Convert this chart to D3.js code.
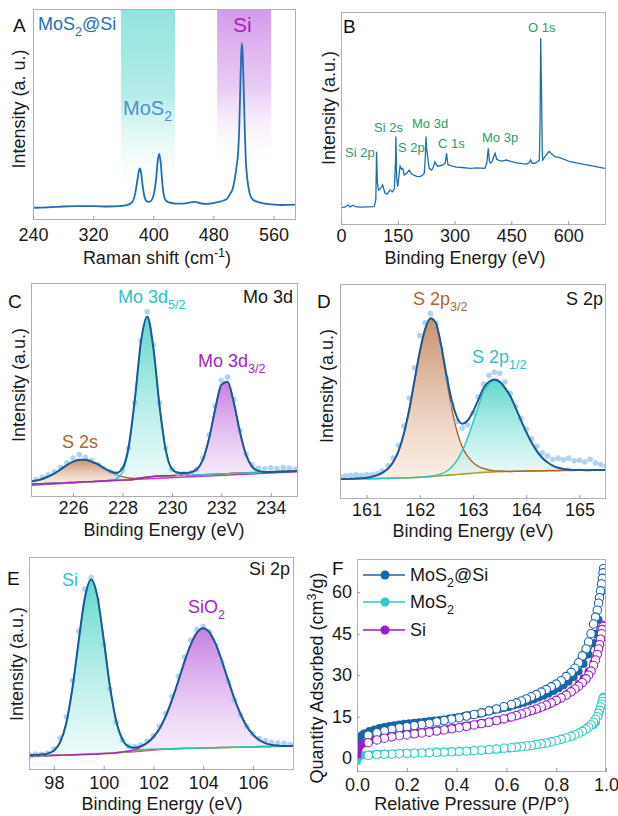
<!DOCTYPE html>
<html>
<head>
<meta charset="utf-8">
<script src="https://cdn.jsdelivr.net/npm/d3@7"></script>
<style>
  body { margin: 0; background: #fff; }
  svg { display: block; font-family: "Liberation Sans", Arial, Helvetica, sans-serif; }
</style>
</head>
<body>
<svg id="fig" width="618" height="816"></svg>
<script>
// ---------- data ----------

// A: Raman spectrum of MoS2@Si
var ramanX = [240, 260, 280, 300, 320, 340, 355, 365, 372, 376, 379, 381, 382.5, 384, 386, 388, 391, 394, 398, 401,
  404, 406, 408, 410, 412, 414, 417, 422, 430, 440, 450, 456, 462, 470, 480, 490, 498, 503, 506, 509,
  511, 513, 514.5, 516, 517, 518, 519, 520, 521.5, 523, 525, 527, 529, 533, 540, 550, 560, 570, 580, 590];
var ramanY = [58, 60, 64, 66, 66, 64, 66, 70, 85, 125, 190, 235, 245, 220, 160, 115, 90, 86, 95, 125,
  200, 280, 313, 270, 180, 120, 92, 82, 78, 78, 84, 86, 80, 76, 80, 88, 100, 128, 150, 205,
  255, 320, 440, 650, 780, 837, 790, 680, 470, 300, 200, 150, 118, 95, 85, 76, 73, 71, 72, 73];
var ramanBandFrom = [357, 485];
var ramanBandTo = [429, 557];
var ramanTicks = [240, 320, 400, 480, 560];

// B: XPS survey
var surveyX = [0, 10, 19, 24, 32, 38, 50, 70, 88, 92, 94, 96, 99, 104, 110, 116, 122, 129, 136, 141,
  144, 145, 147, 150, 153, 156, 160, 163, 167, 172, 180, 186, 191, 200, 209, 216, 220, 223, 224.5, 226,
  228, 231, 233, 239.5, 244, 248, 253, 257, 264, 270, 275, 279, 281, 283, 295, 305, 320, 341, 360, 380,
  385, 389, 392, 395, 400, 404, 407, 411, 415.5, 425, 437.6, 450, 464, 480, 490, 497, 501, 505, 512, 518,
  524, 526, 527.5, 529, 530, 531.5, 532.7, 535, 538.8, 545, 550, 556, 565, 580, 605, 625, 649, 670, 697];
var surveyY = [83, 84, 94, 85, 93, 86, 84, 85, 86, 120, 344, 200, 164, 170, 188, 150, 145, 164, 156, 170,
  300, 415, 220, 180, 230, 277, 262, 266, 235, 240, 258, 240, 235, 228, 227, 235, 243, 330, 415, 360,
  337, 290, 266, 258, 272, 297, 280, 275, 280, 282, 290, 337, 300, 282, 276, 272, 270, 266, 268, 266,
  290, 360, 300, 290, 300, 325, 337, 310, 305, 300, 305, 298, 292, 288, 286, 292, 305, 290, 290, 296,
  305, 500, 877, 700, 587, 350, 305, 310, 321, 335, 345, 335, 321, 315, 297, 290, 282, 275, 266];
var surveyTicks = [0, 150, 300, 450, 600];

// C: Mo 3d
var gridC = [224.25, 224.5, 224.75, 225, 225.25, 225.5, 225.75, 226, 226.25, 226.5, 226.75, 227, 227.25, 227.5, 227.75,
  228, 228.25, 228.5, 228.75, 229, 229.25, 229.5, 229.75, 230, 230.25, 230.5, 230.75, 231, 231.25, 231.5,
  231.75, 232, 232.25, 232.5, 232.75, 233, 233.25, 233.5, 233.75, 234, 234.25, 234.5, 234.75, 235, 235.25];
var bgC = [60, 61, 62, 63, 64, 65, 67, 68, 70, 71, 72, 74, 75, 77, 78,
  79, 80, 83, 88, 93, 96, 98, 99, 100, 101, 102, 103, 103, 104, 105,
  106, 108, 109, 111, 112, 113, 114, 115, 116, 117, 118, 119, 120, 121, 122];
var s2sC = [12, 16, 22, 33, 46, 64, 82, 97, 104, 103, 93, 79, 60, 42, 27,
  16, 9, 4, 2, 1, 0, 0, 0, 0, 0, 0, 0, 0, 0, 0,
  0, 0, 0, 0, 0, 0, 0, 0, 0, 0, 0, 0, 0, 0, 0];
var mo52C = [0, 0, 0, 0, 0, 0, 0, 0, 0, 0, 0, 0, 0, 1, 7,
  39, 146, 369, 637, 750, 600, 327, 121, 31, 12, 6, 3, 1, 0, 0,
  0, 0, 0, 0, 0, 0, 0, 0, 0, 0, 0, 0, 0, 0, 0];
var mo32C = [0, 0, 0, 0, 0, 0, 0, 0, 0, 0, 0, 0, 0, 0, 0,
  0, 0, 0, 0, 0, 0, 0, 0, 0, 0, 4, 9, 24, 69, 167,
  304, 417, 429, 332, 192, 84, 27, 7, 1, 0, 0, 0, 0, 0, 0];
var rawC = [75, 82, 92, 104, 118, 138, 160, 182, 198, 186, 170, 152, 132, 118, 110,
  130, 228, 440, 730, 866, 710, 440, 228, 130, 108, 110, 112, 130, 182, 290,
  425, 545, 560, 455, 310, 200, 150, 135, 132, 136, 133, 138, 135, 130, 128];
var bg2CX = [224.3, 228.8, 235.1];
var bg2CY = [55, 84, 118];
var ticksC = [226, 228, 230, 232, 234];

// D: S 2p
var gridD = [160.5, 160.6, 160.7, 160.8, 160.9, 161, 161.1, 161.2, 161.3, 161.4, 161.5, 161.6, 161.7, 161.8, 161.9,
  162, 162.1, 162.2, 162.3, 162.4, 162.5, 162.6, 162.7, 162.8, 162.9, 163, 163.1, 163.2, 163.3, 163.4,
  163.5, 163.6, 163.7, 163.8, 163.9, 164, 164.1, 164.2, 164.3, 164.4, 164.5, 164.6, 164.7, 164.8, 164.9,
  165, 165.1, 165.2, 165.3, 165.4, 165.5];
var bgD = [92, 92, 93, 93, 94, 94, 95, 95, 96, 96, 97, 98, 99, 99, 100,
  101, 102, 104, 106, 108, 110, 112, 114, 116, 118, 120, 122, 124, 125, 126,
  127, 128, 128, 129, 129, 130, 130, 131, 131, 132, 132, 132, 133, 133, 133,
  134, 134, 134, 135, 135, 135];
var s2p32D = [0, 1, 1, 2, 3, 5, 9, 16, 27, 45, 75, 125, 205, 315, 450,
  584, 687, 735, 710, 600, 450, 310, 200, 125, 80, 50, 30, 18, 10, 5,
  3, 1, 0, 0, 0, 0, 0, 0, 0, 0, 0, 0, 0, 0, 0,
  0, 0, 0, 0, 0, 0];
var s2p12D = [0, 0, 0, 0, 0, 0, 0, 0, 0, 0, 0, 0, 0, 0, 0,
  0, 1, 2, 4, 9, 19, 37, 66, 109, 167, 236, 309, 374, 410, 425,
  416, 388, 351, 296, 238, 182, 133, 92, 61, 39, 23, 13, 7, 4, 2,
  1, 0, 0, 0, 0, 0];
var rawD = [105, 108, 110, 112, 110, 112, 113, 118, 130, 155, 190, 250, 340, 470, 610,
  760, 820, 862, 815, 700, 560, 440, 360, 330, 345, 400, 475, 535, 575, 590,
  585, 545, 490, 430, 375, 325, 280, 245, 215, 200, 185, 190, 182, 190, 178,
  180, 172, 185, 168, 160, 152];
var ticksD = [161, 162, 163, 164, 165];

// E: Si 2p
var gridE = [97, 97.25, 97.5, 97.75, 98, 98.25, 98.5, 98.75, 99, 99.25, 99.5, 99.75, 100, 100.25, 100.5,
  100.75, 101, 101.25, 101.5, 101.75, 102, 102.25, 102.5, 102.75, 103, 103.25, 103.5, 103.75, 104, 104.25,
  104.5, 104.75, 105, 105.25, 105.5, 105.75, 106, 106.25, 106.5, 106.75, 107, 107.25, 107.5, 107.75];
var bgE = [66, 67, 68, 68, 69, 70, 70, 71, 72, 73, 74, 75, 77, 78, 80,
  83, 86, 89, 92, 95, 97, 98, 99, 100, 101, 102, 102, 103, 104, 104,
  105, 106, 106, 107, 108, 108, 109, 110, 110, 111, 112, 112, 113, 114];
var siE = [3, 4, 5, 9, 22, 60, 151, 317, 537, 738, 820, 738, 537, 317, 151,
  60, 22, 9, 4, 2, 1, 0, 0, 0, 0, 0, 0, 0, 0, 0,
  0, 0, 0, 0, 0, 0, 0, 0, 0, 0, 0, 0, 0, 0];
var sio2E = [0, 0, 0, 0, 0, 0, 0, 0, 0, 0, 0, 0, 0, 0, 1,
  2, 3, 7, 16, 31, 57, 97, 155, 230, 317, 407, 487, 542, 562, 542,
  487, 407, 317, 230, 155, 97, 57, 31, 16, 7, 3, 1, 0, 0];
var rawE = [72, 75, 74, 80, 98, 150, 250, 420, 650, 850, 903, 800, 590, 380, 225,
  140, 112, 110, 118, 135, 160, 205, 265, 345, 440, 530, 610, 660, 675, 650,
  585, 505, 415, 330, 258, 205, 170, 148, 138, 130, 128, 125, 120, 118];
var bg2EX = [97, 101.2, 102.5, 107.75];
var bg2EY = [62, 86, 98, 113];
var ticksE = [98, 100, 102, 104, 106];

// F: N2 isotherms
var pAds = [0.001, 0.003, 0.006, 0.01, 0.02, 0.03, 0.05, 0.07, 0.09, 0.11, 0.13, 0.15, 0.17, 0.19, 0.21,
  0.23, 0.25, 0.27, 0.29, 0.31, 0.33, 0.35, 0.37, 0.39, 0.41, 0.43, 0.45, 0.47, 0.49, 0.51,
  0.53, 0.55, 0.57, 0.59, 0.61, 0.63, 0.65, 0.67, 0.69, 0.71, 0.73, 0.75, 0.77, 0.79, 0.81,
  0.83, 0.85, 0.87, 0.89, 0.91, 0.93, 0.95, 0.96, 0.97, 0.98];
var mosiAds = [3, 5.5, 6.8, 7.5, 8.4, 9, 9.8, 10.4, 10.9, 11.3, 11.6, 11.9, 12.2, 12.4, 12.6,
  12.8, 13.0, 13.2, 13.4, 13.6, 13.8, 14.0, 14.3, 14.6, 14.9, 15.2, 15.5, 15.8, 16.1, 16.5,
  16.9, 17.3, 17.7, 18.1, 18.5, 19.0, 19.5, 20.0, 20.6, 21.2, 21.9, 22.6, 23.4, 24.3, 25.3,
  26.4, 27.7, 29.3, 31.3, 34, 37.5, 41.5, 45, 50, 60];
var siAds = [1, 2.5, 3.5, 4.2, 5, 5.5, 6.2, 6.8, 7.2, 7.6, 7.9, 8.2, 8.5, 8.7, 8.9,
  9.1, 9.3, 9.5, 9.7, 9.9, 10.1, 10.3, 10.6, 10.9, 11.2, 11.5, 11.8, 12.1, 12.4, 12.7,
  13.0, 13.4, 13.8, 14.2, 14.6, 15.1, 15.6, 16.1, 16.7, 17.3, 17.9, 18.6, 19.4, 20.3, 21.3,
  22.4, 23.6, 25, 26.8, 28.8, 31.3, 34.5, 36.5, 39.5, 44];
var mosAds = [-1, 0, 0.5, 0.8, 1.0, 1.1, 1.3, 1.4, 1.5, 1.6, 1.6, 1.7, 1.7, 1.8, 1.8,
  1.9, 1.9, 2.0, 2.0, 2.1, 2.1, 2.2, 2.3, 2.3, 2.4, 2.5, 2.6, 2.7, 2.8, 2.9,
  3.0, 3.1, 3.2, 3.4, 3.5, 3.7, 3.9, 4.1, 4.3, 4.6, 4.9, 5.2, 5.6, 6.0, 6.5,
  7.0, 7.6, 8.3, 9.2, 10.2, 11.3, 12.0, 13, 15.5, 19];
var pDes = [0.99, 0.988, 0.985, 0.982, 0.978, 0.974, 0.97, 0.965, 0.958, 0.95, 0.94, 0.93, 0.92, 0.905, 0.89,
  0.875, 0.86, 0.84, 0.82, 0.80, 0.78, 0.76, 0.74, 0.72, 0.70, 0.68, 0.66, 0.64, 0.62, 0.59,
  0.56, 0.53, 0.50, 0.47, 0.44, 0.41, 0.38, 0.35, 0.32, 0.29, 0.26, 0.23, 0.20, 0.17, 0.14,
  0.11, 0.08, 0.045];
var mosiDes = [68.5, 67, 65, 63, 60.5, 58, 56, 53.5, 51, 48.5, 45, 42, 39.5, 37, 34.5,
  32.5, 31, 29.5, 28, 26.8, 25.8, 24.8, 23.9, 23.0, 22.2, 21.4, 20.7, 20.0, 19.4, 18.6,
  17.8, 17.1, 16.4, 15.8, 15.2, 14.6, 14.1, 13.6, 13.1, 12.6, 12.2, 11.8, 11.4, 11.0, 10.5,
  9.9, 9.2, 8.3];
var siDes = [48, 47.5, 46.5, 45, 43, 41, 39.5, 37.5, 35.5, 33.5, 31.5, 30, 28.7, 27.3, 26,
  25, 24, 22.8, 21.8, 20.9, 20, 19.2, 18.5, 17.8, 17.2, 16.6, 16, 15.4, 14.9, 14.2,
  13.6, 13, 12.5, 12, 11.5, 11, 10.6, 10.2, 9.8, 9.4, 9.1, 8.8, 8.4, 8.1, 7.7,
  7.2, 6.6, 5.6];
var mosDes = [22, 21.5, 20.5, 19.5, 18.5, 17.3, 16.2, 15, 14, 13, 12, 11.2, 10.5, 9.7, 9,
  8.4, 7.9, 7.3, 6.8, 6.3, 5.9, 5.5, 5.2, 4.9, 4.6, 4.4, 4.2, 4.0, 3.8, 3.6,
  3.3, 3.1, 2.9, 2.7, 2.5, 2.4, 2.3, 2.2, 2.1, 2.0, 1.9, 1.8, 1.7, 1.6, 1.5,
  1.4, 1.3, 1.0];
var ticksFx = [0, 0.2, 0.4, 0.6, 0.8, 1.0];
var ticksFy = [0, 15, 30, 45, 60];

// ---------- helpers ----------
var FONT = '"Liberation Sans", Arial, Helvetica, sans-serif',
    INK = '#1a1a1a',
    CYAN = '#2cc3c1', MAG = '#a323c4', BROWN = '#b4622c', GREEN = '#2f9a6b',
    BLUE = '#1f6db3', ENV = '#1d5a92';

var svg = d3.select('#fig');
svg.append('rect').attr('width', 618).attr('height', 816).attr('fill', '#fff');
var defs = svg.append('defs');

function addGrad(id, stops) {
  var g = defs.append('linearGradient').attr('id', id)
    .attr('x1', 0).attr('y1', 0).attr('x2', 0).attr('y2', 1);
  stops.forEach(function(s) {
    g.append('stop').attr('offset', s[0]).attr('stop-color', s[1]).attr('stop-opacity', s[2]);
  });
}
addGrad('bandCyan', [['0%', '#8fe4de', 1], ['45%', '#aeeae6', 0.9], ['100%', '#ffffff', 0]]);
addGrad('bandMag', [['0%', '#d59aea', 1], ['50%', '#e6c3f3', 0.85], ['100%', '#ffffff', 0]]);
addGrad('fillCyan', [['0%', '#4fd3c8', 0.9], ['100%', '#dcf8f6', 0.55]]);
addGrad('fillMag', [['0%', '#c070de', 0.9], ['100%', '#f4e4fa', 0.55]]);
addGrad('fillBrown', [['0%', '#c3845a', 0.9], ['100%', '#f8e2d3', 0.55]]);

function makePanel(id, box, xDom, yDom) {
  var p = { box: box };
  p.x = d3.scaleLinear().domain(xDom).range([box.x0, box.x1]);
  p.y = d3.scaleLinear().domain(yDom).range([box.y1, box.y0]);
  defs.append('clipPath').attr('id', 'clip-' + id).append('rect')
    .attr('x', box.x0).attr('y', box.y0)
    .attr('width', box.x1 - box.x0).attr('height', box.y1 - box.y0);
  p.g = svg.append('g');
  p.plot = p.g.append('g').attr('clip-path', 'url(#clip-' + id + ')');
  return p;
}

function drawFrame(p) {
  p.g.append('rect')
    .attr('x', p.box.x0 + 0.5).attr('y', p.box.y0 + 0.5)
    .attr('width', p.box.x1 - p.box.x0 - 1).attr('height', p.box.y1 - p.box.y0 - 1)
    .attr('fill', 'none').attr('stroke', '#b0b0b0').attr('stroke-width', 1);
}

function styleAxis(a) {
  a.attr('font-family', FONT).attr('font-size', 18);
  a.select('.domain').remove();
  a.selectAll('.tick line').attr('stroke', '#9a9a9a');
  a.selectAll('.tick text').attr('fill', INK);
}

function bottomAxis(p, ticks, pad, fmt) {
  var ax = d3.axisBottom(p.x).tickValues(ticks)
    .tickSizeInner(-4).tickSizeOuter(0).tickPadding(pad)
    .tickFormat(fmt || d3.format('d'));
  styleAxis(p.g.append('g').attr('transform', 'translate(0,' + p.box.y1 + ')').call(ax));
}

// text with sub/superscripts: parts = ['MoS', {sub: 1, t: '2'}, ...]
function rich(parent, x, y, parts, size, color, anchor) {
  var t = parent.append('text').attr('x', x).attr('y', y)
    .attr('font-size', size).attr('fill', color)
    .attr('text-anchor', anchor || 'start');
  var shift = 0;
  parts.forEach(function(part) {
    var s = typeof part === 'string' ? { t: part } : part,
        target = s.sub ? size * 0.32 : (s.sup ? -size * 0.38 : 0);
    t.append('tspan').attr('dy', target - shift)
      .attr('font-size', (s.sub || s.sup) ? size * 0.7 : size)
      .text(s.t);
    shift = target;
  });
  return t;
}

function yTitle(x, y, parts) {
  rich(svg, 0, 0, parts, 18, INK, 'middle')
    .attr('transform', 'translate(' + x + ',' + y + ') rotate(-90)');
}

// fitted XPS panel: components stacked on the background
function drawFit(p, grid, bg, comps, raw) {
  var xs = function(d, i) { return p.x(grid[i]); },
      line = d3.line().x(xs).y(function(d) { return p.y(d); }).curve(d3.curveMonotoneX);

  comps.forEach(function(c) {
    var area = d3.area().x(xs)
      .y0(function(d, i) { return p.y(bg[i]); })
      .y1(function(d, i) { return p.y(bg[i] + d); })
      .curve(d3.curveMonotoneX);
    p.plot.append('path').datum(c.vals).attr('d', area).attr('fill', 'url(#' + c.grad + ')');
  });

  p.plot.append('path').datum(bg).attr('d', line)
    .attr('fill', 'none').attr('stroke', '#a9a22c').attr('stroke-width', 1.6);

  comps.forEach(function(c) {
    p.plot.append('path').datum(c.vals.map(function(v, i) { return bg[i] + v; }))
      .attr('d', line).attr('fill', 'none').attr('stroke', c.color).attr('stroke-width', 1.4);
  });

  p.plot.selectAll(null).data(raw).enter().append('circle')
    .attr('cx', xs).attr('cy', function(d) { return p.y(d); })
    .attr('r', 2.8).attr('fill', '#8fc2e8').attr('fill-opacity', 0.7);

  var env = grid.map(function(g, i) {
    return bg[i] + d3.sum(comps, function(c) { return c.vals[i]; });
  });
  p.plot.append('path').datum(env).attr('d', line)
    .attr('fill', 'none').attr('stroke', ENV).attr('stroke-width', 2);
}

function extraLine(p, xs, ys, color) {
  p.plot.append('path').datum(xs)
    .attr('d', d3.line().x(function(d) { return p.x(d); }).y(function(d, i) { return p.y(ys[i]); }))
    .attr('fill', 'none').attr('stroke', color).attr('stroke-width', 1.4);
}

function letter(x, y, s) {
  svg.append('text').attr('x', x).attr('y', y).attr('font-size', 19).attr('fill', '#111').text(s);
}

// ---------- A: Raman ----------
var pA = makePanel('a', { x0: 33, x1: 296, y0: 9, y1: 220 }, [240, 590], [0, 1000]);
pA.plot.append('rect').attr('x', pA.x(ramanBandFrom[0])).attr('y', 9)
  .attr('width', pA.x(ramanBandTo[0]) - pA.x(ramanBandFrom[0])).attr('height', 192)
  .attr('fill', 'url(#bandCyan)');
pA.plot.append('rect').attr('x', pA.x(ramanBandFrom[1])).attr('y', 9)
  .attr('width', pA.x(ramanBandTo[1]) - pA.x(ramanBandFrom[1])).attr('height', 160)
  .attr('fill', 'url(#bandMag)');
pA.plot.append('path').datum(ramanX)
  .attr('d', d3.line().x(function(d) { return pA.x(d); })
    .y(function(d, i) { return pA.y(ramanY[i]); }).curve(d3.curveMonotoneX))
  .attr('fill', 'none').attr('stroke', BLUE).attr('stroke-width', 1.8);
drawFrame(pA);
bottomAxis(pA, ramanTicks, 8);
letter(13, 32, 'A');
rich(svg, 38, 30, ['MoS', { sub: 1, t: '2' }, '@Si'], 18, '#2470b5');
rich(svg, 123, 115, ['MoS', { sub: 1, t: '2' }], 20, '#4d90cc');
rich(svg, 233, 32, ['Si'], 21, MAG);
rich(svg, 157, 264, ['Raman shift (cm', { sup: 1, t: '-1' }, ')'], 18, INK, 'middle');
yTitle(25, 109, ['Intensity (a. u.)']);

// ---------- B: survey ----------
var pB = makePanel('b', { x0: 341, x1: 606, y0: 12, y1: 225 }, [0, 700], [0, 1000]);
pB.plot.append('path').datum(surveyX)
  .attr('d', d3.line().x(function(d) { return pB.x(d); })
    .y(function(d, i) { return pB.y(surveyY[i]); }))
  .attr('fill', 'none').attr('stroke', BLUE).attr('stroke-width', 1.3);
drawFrame(pB);
bottomAxis(pB, surveyTicks, 4);
letter(343, 33, 'B');
[['Si 2p', 345, 157], ['Si 2s', 374, 132], ['S 2p', 398, 152], ['Mo 3d', 412, 128],
 ['C 1s', 438, 148], ['Mo 3p', 482, 142], ['O 1s', 528, 32]].forEach(function(l) {
  svg.append('text').attr('x', l[1]).attr('y', l[2]).attr('font-size', 13)
    .attr('fill', GREEN).text(l[0]);
});
rich(svg, 465, 264, ['Binding Energy (eV)'], 18, INK, 'middle');
yTitle(335, 108, ['Intensity (a.u.)']);

// ---------- C: Mo 3d ----------
var pC = makePanel('c', { x0: 31, x1: 298, y0: 283, y1: 497 }, [224.3, 235.1], [0, 1000]);
extraLine(pC, bg2CX, bg2CY, '#b03cc8');
drawFit(pC, gridC, bgC, [
  { vals: s2sC, grad: 'fillBrown', color: BROWN },
  { vals: mo52C, grad: 'fillCyan', color: CYAN },
  { vals: mo32C, grad: 'fillMag', color: MAG }
], rawC);
drawFrame(pC);
bottomAxis(pC, ticksC, 4);
letter(8, 308, 'C');
rich(svg, 118, 303, ['Mo 3d', { sub: 1, t: '5/2' }], 18, CYAN);
rich(svg, 293, 303, ['Mo 3d'], 18, INK, 'end');
rich(svg, 198, 367, ['Mo 3d', { sub: 1, t: '3/2' }], 18, MAG);
rich(svg, 62, 448, ['S 2s'], 18, BROWN);
rich(svg, 164, 536, ['Binding Energy (eV)'], 18, INK, 'middle');
yTitle(25, 385, ['Intensity (a.u.)']);

// ---------- D: S 2p ----------
var pD = makePanel('d', { x0: 340, x1: 606, y0: 284, y1: 499 }, [160.5, 165.5], [0, 1000]);
drawFit(pD, gridD, bgD, [
  { vals: s2p32D, grad: 'fillBrown', color: BROWN },
  { vals: s2p12D, grad: 'fillCyan', color: CYAN }
], rawD);
drawFrame(pD);
bottomAxis(pD, ticksD, 4);
letter(317, 308, 'D');
rich(svg, 413, 305, ['S 2p', { sub: 1, t: '3/2' }], 18, BROWN);
rich(svg, 603, 305, ['S 2p'], 18, INK, 'end');
rich(svg, 472, 363, ['S 2p', { sub: 1, t: '1/2' }], 18, CYAN);
rich(svg, 473, 537, ['Binding Energy (eV)'], 18, INK, 'middle');
yTitle(333, 386, ['Intensity (a.u.)']);

// ---------- E: Si 2p ----------
var pE = makePanel('e', { x0: 29, x1: 294, y0: 557, y1: 770 }, [97, 107.65], [0, 1000]);
extraLine(pE, bg2EX, bg2EY, '#b03cc8');
drawFit(pE, gridE, bgE, [
  { vals: siE, grad: 'fillCyan', color: CYAN },
  { vals: sio2E, grad: 'fillMag', color: MAG }
], rawE);
drawFrame(pE);
bottomAxis(pE, ticksE, 6);
letter(7, 585, 'E');
rich(svg, 62, 586, ['Si'], 18, CYAN);
rich(svg, 290, 575, ['Si 2p'], 18, INK, 'end');
rich(svg, 188, 613, ['SiO', { sub: 1, t: '2' }], 18, MAG);
rich(svg, 162, 810, ['Binding Energy (eV)'], 18, INK, 'middle');
yTitle(23, 664, ['Intensity (a.u.)']);

// ---------- F: isotherms ----------
var pF = makePanel('f', { x0: 357, x1: 606, y0: 559, y1: 772 }, [0, 1.0], [-5, 72]);
var seriesF = [
  { label: ['MoS', { sub: 1, t: '2' }, '@Si'], color: '#1766a9', ads: mosiAds, des: mosiDes },
  { label: ['MoS', { sub: 1, t: '2' }], color: '#2ecbc5', ads: mosAds, des: mosDes },
  { label: ['Si'], color: '#9a1cc8', ads: siAds, des: siDes }
];
seriesF.forEach(function(s) {
  pF.plot.append('path').datum(s.des)
    .attr('d', d3.line().x(function(d, i) { return pF.x(pDes[i]); }).y(function(d) { return pF.y(d); }))
    .attr('fill', 'none').attr('stroke', s.color).attr('stroke-width', 0.8).attr('stroke-opacity', 0.7);
  pF.plot.append('path').datum(s.ads)
    .attr('d', d3.line().x(function(d, i) { return pF.x(pAds[i]); }).y(function(d) { return pF.y(d); }))
    .attr('fill', 'none').attr('stroke', s.color).attr('stroke-width', 1.2);
  pF.plot.selectAll(null).data(s.ads).enter().append('circle')
    .attr('cx', function(d, i) { return pF.x(pAds[i]); })
    .attr('cy', function(d) { return pF.y(d); })
    .attr('r', 4).attr('fill', s.color);
});
seriesF.forEach(function(s) {
  pF.plot.selectAll(null).data(s.des).enter().append('circle')
    .attr('cx', function(d, i) { return pF.x(pDes[i]); })
    .attr('cy', function(d) { return pF.y(d); })
    .attr('r', 4.2).attr('fill', '#fff').attr('stroke', s.color).attr('stroke-width', 1.1);
});
drawFrame(pF);
bottomAxis(pF, ticksFx, 6, d3.format('.1f'));
var axFy = d3.axisLeft(pF.y).tickValues(ticksFy).tickSizeInner(-3).tickSizeOuter(0).tickPadding(5);
styleAxis(pF.g.append('g').attr('transform', 'translate(' + pF.box.x0 + ',0)').call(axFy));
letter(332, 575, 'F');
seriesF.forEach(function(s, i) {
  var yy = [575, 602, 630][i];
  svg.append('line').attr('x1', 363).attr('x2', 405).attr('y1', yy).attr('y2', yy)
    .attr('stroke', s.color).attr('stroke-width', 1.3);
  svg.append('circle').attr('cx', 385).attr('cy', yy).attr('r', 4.5).attr('fill', s.color);
  rich(svg, 410, yy + 6, s.label, 18, INK);
});
rich(svg, 472, 810, ['Relative Pressure (P/P°)'], 18, INK, 'middle');
yTitle(323, 678, ['Quantity Adsorbed (cm', { sup: 1, t: '3' }, '/g)']);
</script>
</body>
</html>
